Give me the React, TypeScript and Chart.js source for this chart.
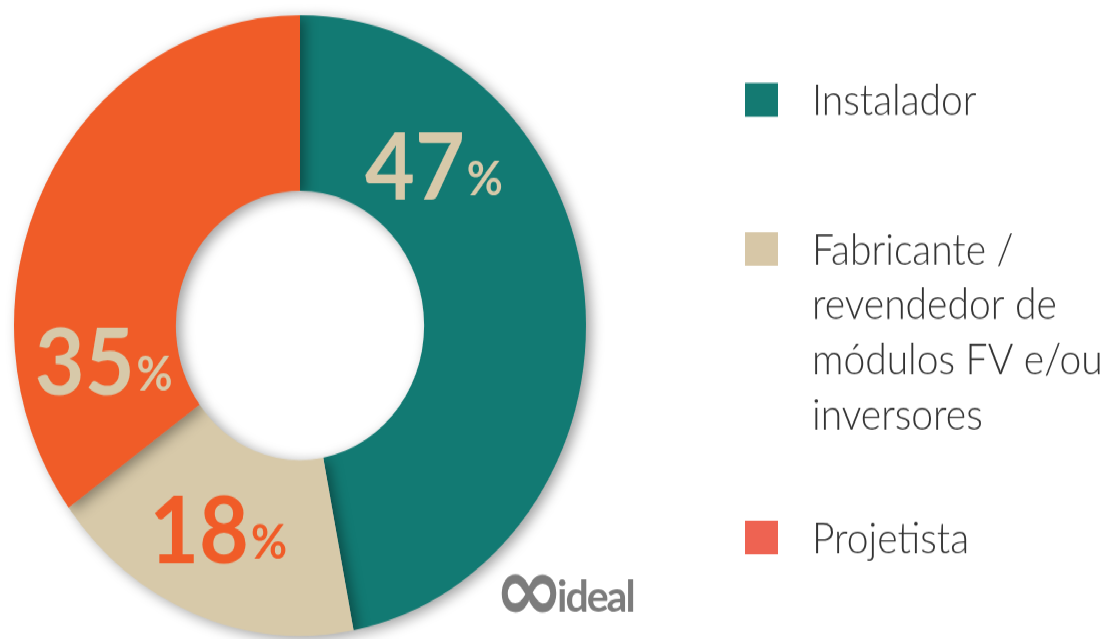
import { useEffect, useRef } from "react";
import { Chart, registerables } from "chart.js";

Chart.register(...registerables);

// ---- data ----
const categories: string[][] = [
  ["Instalador"],
  ["Fabricante /", "revendedor de", "módulos FV e/ou", "inversores"],
  ["Projetista"],
];
const shares: number[] = [47, 18, 35];
const sliceColors: string[] = ["#127A73", "#D7C9A9", "#F05C28"];
const valueColors: string[] = ["#D7C9A9", "#F05C28", "#D7C9A9"];
const legendColors: string[] = ["#147A72", "#D7C7A7", "#EE6352"];
const logoText = "ideal";

// ---- layout ----
const W = 1105;
const H = 639;
const STRETCH = 1.085;
const CH = Math.round(H / STRETCH);

const labelAngleFrac = [0.25, 0.53, 0.21];
const labelRadiusFrac = [0.463, 0.5, 0.463];
const legendBaselines = [106, 243.5, 509.5];
const legendLineGap = 50.7;

const shadowPlugin = {
  id: "arcShadow",
  beforeDatasetsDraw(chart: any) {
    const ctx = chart.ctx;
    ctx.save();
    ctx.shadowColor = "rgba(0,0,0,0.38)";
    ctx.shadowBlur = 13;
    ctx.shadowOffsetX = 5;
    ctx.shadowOffsetY = 3;
  },
  afterDatasetsDraw(chart: any) {
    chart.ctx.restore();
  },
};

const valueLabelPlugin = {
  id: "valueLabels",
  afterDatasetsDraw(chart: any) {
    const ctx = chart.ctx;
    const meta = chart.getDatasetMeta(0);
    const big = 86;
    const small = 44;
    meta.data.forEach((arc: any, i: number) => {
      const p = arc.getProps(
        ["x", "y", "startAngle", "endAngle", "innerRadius", "outerRadius"],
        true
      );
      const a = p.startAngle + (p.endAngle - p.startAngle) * labelAngleFrac[i];
      const r = p.innerRadius + (p.outerRadius - p.innerRadius) * labelRadiusFrac[i];
      const cx = p.x + Math.cos(a) * r;
      const cy = p.y + Math.sin(a) * r;
      const txt = String(chart.data.datasets[0].data[i]);
      ctx.save();
      ctx.textAlign = "left";
      ctx.textBaseline = "alphabetic";
      ctx.font = `700 ${big}px Lato`;
      const wd = ctx.measureText(txt).width;
      ctx.font = `700 ${small}px Lato`;
      const wp = ctx.measureText("%").width;
      const gap = 2;
      const left = cx - (wd + gap + wp) / 2;
      const base = cy + big * 0.36;
      ctx.fillStyle = valueColors[i];
      ctx.font = `700 ${big}px Lato`;
      ctx.fillText(txt, left, base);
      ctx.font = `700 ${small}px Lato`;
      ctx.fillText("%", left + wd + gap, base - 4);
      ctx.restore();
    });
  },
};

const legendPlugin = {
  id: "sideLegend",
  afterDraw(chart: any) {
    const ctx = chart.ctx;
    const labels = chart.data.labels as string[][];
    ctx.save();
    labels.forEach((lines, i) => {
      const base = legendBaselines[i];
      ctx.fillStyle = legendColors[i];
      ctx.fillRect(745, base - 14 - 15.5, 33, 31);
      ctx.fillStyle = "#333333";
      ctx.font = "300 39px Lato";
      ctx.textAlign = "left";
      ctx.textBaseline = "alphabetic";
      lines.forEach((line, j) => {
        ctx.fillText(line, 812, base + j * legendLineGap);
      });
    });
    // logo
    ctx.fillStyle = "#7c7c7c";
    ctx.textBaseline = "alphabetic";
    ctx.font = "italic 700 84px 'DejaVu Sans'";
    ctx.fillText("∞", 494, 572);
    ctx.font = "700 41px Lato";
    (ctx as any).letterSpacing = "-2px";
    ctx.fillText(logoText, 557, 564);
    ctx.restore();
  },
};

export default function App() {
  const ref = useRef<HTMLCanvasElement | null>(null);
  useEffect(() => {
    if (!ref.current) return;
    const chart = new Chart(ref.current, {
      type: "doughnut",
      data: {
        labels: categories as any,
        datasets: [
          {
            data: shares,
            backgroundColor: sliceColors,
            borderWidth: 0,
          },
        ],
      },
      options: {
        responsive: false,
        animation: false,
        events: [],
        cutout: "43.4%",
        layout: { padding: { left: 14, right: 519, top: 14, bottom: 3 } },
        plugins: {
          legend: { display: false },
          tooltip: { enabled: false },
        },
      },
      plugins: [shadowPlugin, valueLabelPlugin, legendPlugin],
    });
    return () => chart.destroy();
  }, []);
  return (
    <div
      style={{
        position: "fixed",
        left: 0,
        top: 0,
        width: W,
        height: CH,
        background: "#ffffff",
        transform: `scaleY(${H / CH})`,
        transformOrigin: "0 0",
      }}
    >
      <canvas ref={ref} width={W} height={CH} style={{ width: W, height: CH }} />
    </div>
  );
}
